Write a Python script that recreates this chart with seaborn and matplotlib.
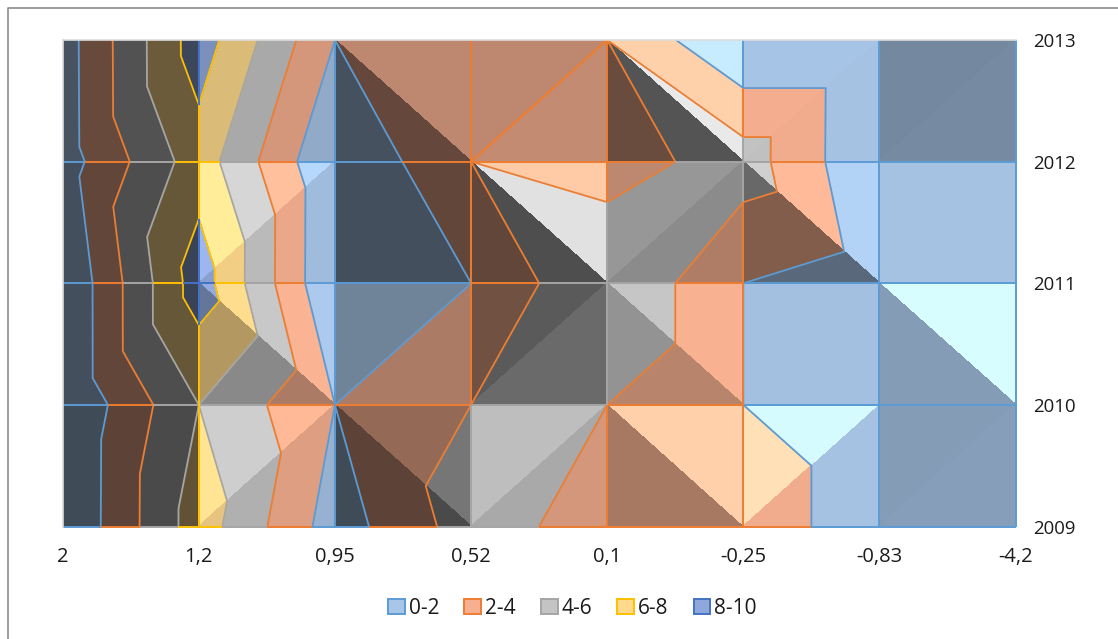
import numpy as np
import matplotlib
matplotlib.use('Agg')
import matplotlib.pyplot as plt
import matplotlib.tri as mtri
from matplotlib.lines import Line2D
from matplotlib.patches import Patch
import seaborn as sns

x_labels = ['2', '1,2', '0,95', '0,52', '0,1', '-0,25', '-0,83', '-4,2']
y_labels = ['2009', '2010', '2011', '2012', '2013']
band_labels = ['0-2', '2-4', '4-6', '6-8', '8-10']
band_edges = [0, 2, 4, 6, 8, 10]

z_2009 = [0.04, 7.05, 1.0, 5.0, 3.0, 3.0, 1.0, 1.5]
z_2010 = [0.01, 6.0, 2.0, 4.0, 4.0, 2.0, 1.0, 1.2]
z_2011 = [0.02, 9.05, 0.02, 2.0, 6.0, 2.0, 0.95, 0.6]
z_2012 = [1.02, 7.07, 0.05, 4.0, 3.0, 5.0, 0.01, 0.5]
z_2013 = [1.06, 9.06, 2.0, 3.0, 4.001, 0.04, 0.04, 1.0]

# how each cell is split, bottom row first, 1 = "/" and 0 = "\"
split_2009 = [0, 1, 0, 1, 0, 1, 1]
split_2010 = [1, 0, 1, 1, 0, 1, 0]
split_2011 = [0, 1, 0, 0, 1, 0, 1]
split_2012 = [1, 1, 0, 1, 0, 1, 1]

# brightness of the upper and lower triangle of each cell
upper_2009 = [.38, 1.05, .60, .97, 1.18, 1.27, .79]
lower_2009 = [.38, .90, .38, .86, .68, .98, .80]
upper_2010 = [.40, 1.02, .66, .46, 1.01, .97, 1.28]
lower_2010 = [.40, .70, .70, .54, .75, .97, .79]
upper_2011 = [.40, 1.09, .40, 1.15, .77, 1.06, .98]
lower_2011 = [.40, .95, .40, .40, .71, .53, .98]
upper_2012 = [.42, .86, .77, .77, 1.19, .99, .69]
lower_2012 = [.42, .86, .41, .79, .43, .98, .70]

fill_colors = ['#A8C6E8', '#F6B090', '#C4C4C4', '#FFD98C', '#8FA8DC']
line_colors = ['#5B9BD5', '#ED7D31', '#A5A5A5', '#FFC000', '#4472C4']

sns.set_theme(style='white')
plt.rcParams['font.family'] = ['Open Sans', 'DejaVu Sans']

z = np.array([z_2009, z_2010, z_2011, z_2012, z_2013])
splits = [split_2009, split_2010, split_2011, split_2012]
uppers = [upper_2009, upper_2010, upper_2011, upper_2012]
lowers = [lower_2009, lower_2010, lower_2011, lower_2012]
n_rows, n_cols = z.shape
gx, gy = np.meshgrid(np.arange(n_cols), np.arange(n_rows))
px, py, pz = gx.ravel(), gy.ravel(), z.ravel()

fig = plt.figure(figsize=(11.18, 6.39), dpi=100)
ax = fig.add_axes([62.7 / 1118, 1 - 526.5 / 639, 952.9 / 1118, 486.5 / 639])

triangles = []
base = np.array([matplotlib.colors.to_rgb(c) for c in fill_colors])
for r in range(n_rows - 1):
    for c in range(n_cols - 1):
        ll = r * n_cols + c
        lr, ul, ur = ll + 1, ll + n_cols, ll + n_cols + 1
        if splits[r][c]:
            pair = [[ul, ur, ll], [ur, lr, ll]]
        else:
            pair = [[ul, ur, lr], [ul, lr, ll]]
        for tri, f in zip(pair, [uppers[r][c], lowers[r][c]]):
            triangles.append(tri)
            one = mtri.Triangulation(px[tri], py[tri], [[0, 1, 2]])
            shaded = [tuple(v) for v in np.clip(base * f, 0, 1)]
            cs = ax.tricontourf(one, pz[tri], levels=band_edges, colors=shaded)
            cs.set_edgecolor('face')
            cs.set_linewidth(0.4)

# contour lines take the colour of the band below them
whole = mtri.Triangulation(px, py, triangles)
ax.tricontour(whole, pz, levels=band_edges[1:-1], colors=line_colors[:4], linewidths=1.3)


def grid_edge(x0, y0, x1, y1, z0, z1):
    cuts = [0.0, 1.0]
    if z0 != z1:
        cuts += [(l - z0) / (z1 - z0) for l in band_edges if 0 < (l - z0) / (z1 - z0) < 1]
    cuts = sorted(cuts)
    for a, b in zip(cuts[:-1], cuts[1:]):
        mid = z0 + (z1 - z0) * (a + b) / 2
        band = min(int(mid // 2), 4)
        ax.plot([x0 + (x1 - x0) * a, x0 + (x1 - x0) * b], [y0 + (y1 - y0) * a, y0 + (y1 - y0) * b],
                color=line_colors[band], lw=1.4, solid_capstyle='butt', clip_on=False)


# no coloured line along the top row and the left column
for r in range(n_rows - 1):
    for c in range(n_cols - 1):
        grid_edge(c, r, c + 1, r, z[r, c], z[r, c + 1])
for r in range(n_rows - 1):
    for c in range(1, n_cols):
        grid_edge(c, r, c, r + 1, z[r, c], z[r + 1, c])

ax.set_xlim(0, n_cols - 1)
ax.set_ylim(0, n_rows - 1)
ax.set_xticks(range(n_cols))
ax.set_xticklabels(x_labels)
ax.set_yticks(range(n_rows))
ax.set_yticklabels(y_labels)
ax.yaxis.tick_right()
ax.tick_params(axis='x', length=0, pad=14.5, labelsize=14.5, labelcolor='#1a1a1a')
ax.tick_params(axis='y', length=0, pad=12.6, labelsize=13.4, labelcolor='#1a1a1a')
ax.spines['right'].set_visible(False)
ax.spines['bottom'].set_visible(False)
for side in ['left', 'top']:
    ax.spines[side].set_color('#dcdcdc')
    ax.spines[side].set_linewidth(1.2)

handles = [Patch(facecolor=f, edgecolor=l, lw=1.4) for f, l in zip(fill_colors, line_colors)]
fig.legend(handles, band_labels, loc='center', bbox_to_anchor=(572.5 / 1118, 1 - 608 / 639), ncol=5,
           frameon=False, fontsize=15, handlelength=0.8, handleheight=0.7,
           handletextpad=0.2, columnspacing=1.2, labelcolor='#1a1a1a')

# outer chart border, only top and left are inside the picture
fig.add_artist(Line2D([8 / 1118, 8 / 1118, 1], [0, 1 - 8 / 639, 1 - 8 / 639],
                      color='#8c8c8c', lw=1.2, transform=fig.transFigure))

fig.savefig('out.png', dpi=100)
